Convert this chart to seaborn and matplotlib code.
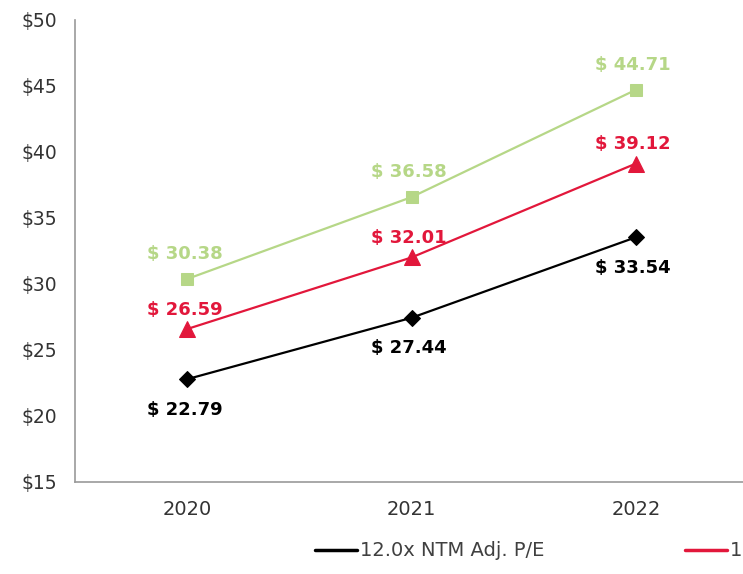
import numpy as np
import pandas as pd
import seaborn as sns
import matplotlib.pyplot as plt
from matplotlib.ticker import FixedLocator

# Chart data
years = ["2020", "2021", "2022"]
series_names = ["12.0x NTM Adj. P/E", "14.0x NTM Adj. P/E", "16.0x NTM Adj. P/E"]
values_12x = [22.79, 27.44, 33.54]
values_14x = [26.59, 32.01, 39.12]
values_16x = [30.38, 36.58, 44.71]
y_ticks = [15, 20, 25, 30, 35, 40, 45, 50]

colors = {series_names[0]: "#000000", series_names[1]: "#E2173B", series_names[2]: "#B6D787"}
markers = {series_names[0]: "D", series_names[1]: "^", series_names[2]: "s"}
marker_sizes = {series_names[0]: 8, series_names[1]: 11, series_names[2]: 9}

df = pd.DataFrame({
    "year": years * 3,
    "x": list(range(len(years))) * 3,
    "value": values_12x + values_14x + values_16x,
    "series": [s for s in series_names for _ in years],
})

sns.set_style("white")
plt.rcParams["font.family"] = ["DejaVu Sans"]

fig = plt.figure(figsize=(7.43, 5.74), dpi=100)
ax = fig.add_axes([75 / 743, 1 - 482 / 574, 673 / 743, 462 / 574])

for name in series_names:
    sub = df[df["series"] == name]
    sns.lineplot(
        data=sub, x="x", y="value", ax=ax, color=colors[name], marker=markers[name],
        markersize=marker_sizes[name], markeredgecolor=colors[name], linewidth=1.6,
        label=name,
    )

# Data labels (offsets in points)
label_offsets = {series_names[0]: -22, series_names[1]: 14, series_names[2]: 18}
for name in series_names:
    sub = df[df["series"] == name]
    for x, v in zip(sub["x"], sub["value"]):
        ax.annotate(
            f"$ {v:.2f}", (x, v), xytext=(-2, label_offsets[name]), textcoords="offset points",
            ha="center", va="center", fontsize=13, fontweight="bold", color=colors[name],
        )

ax.set_xlim(-0.5, 2.5)
ax.set_ylim(15, 50)
ax.set_yticks(y_ticks)
ax.set_yticklabels([f"${t}" for t in y_ticks], fontsize=13.5, color="#333333")
ax.set_xticks(range(len(years)))
ax.set_xticklabels(years, fontsize=14, color="#333333")
ax.tick_params(axis="x", length=0, pad=13)
ax.xaxis.set_minor_locator(FixedLocator([-0.5, 0.5, 1.5, 2.5]))
ax.tick_params(axis="x", which="minor", length=5, width=1, color="#999999", direction="out")
ax.tick_params(axis="y", length=7, width=1, color="#999999", direction="out", pad=6)
ax.set_xlabel("")
ax.set_ylabel("")

for side in ["top", "right"]:
    ax.spines[side].set_visible(False)
for side in ["left", "bottom"]:
    ax.spines[side].set_color("#999999")
    ax.spines[side].set_linewidth(1.2)

ax.legend_.remove()
legend_handles = [plt.Line2D([], [], color=colors[n], linewidth=2.5) for n in series_names]
fig.legend(
    legend_handles, series_names, loc="center left", bbox_to_anchor=(297 / 743, 1 - 551 / 574),
    ncol=3, frameon=False, fontsize=14, handlelength=2.2, handletextpad=0.15,
    columnspacing=7.2, labelcolor="#404040",
)

fig.savefig("out.png", dpi=100)
